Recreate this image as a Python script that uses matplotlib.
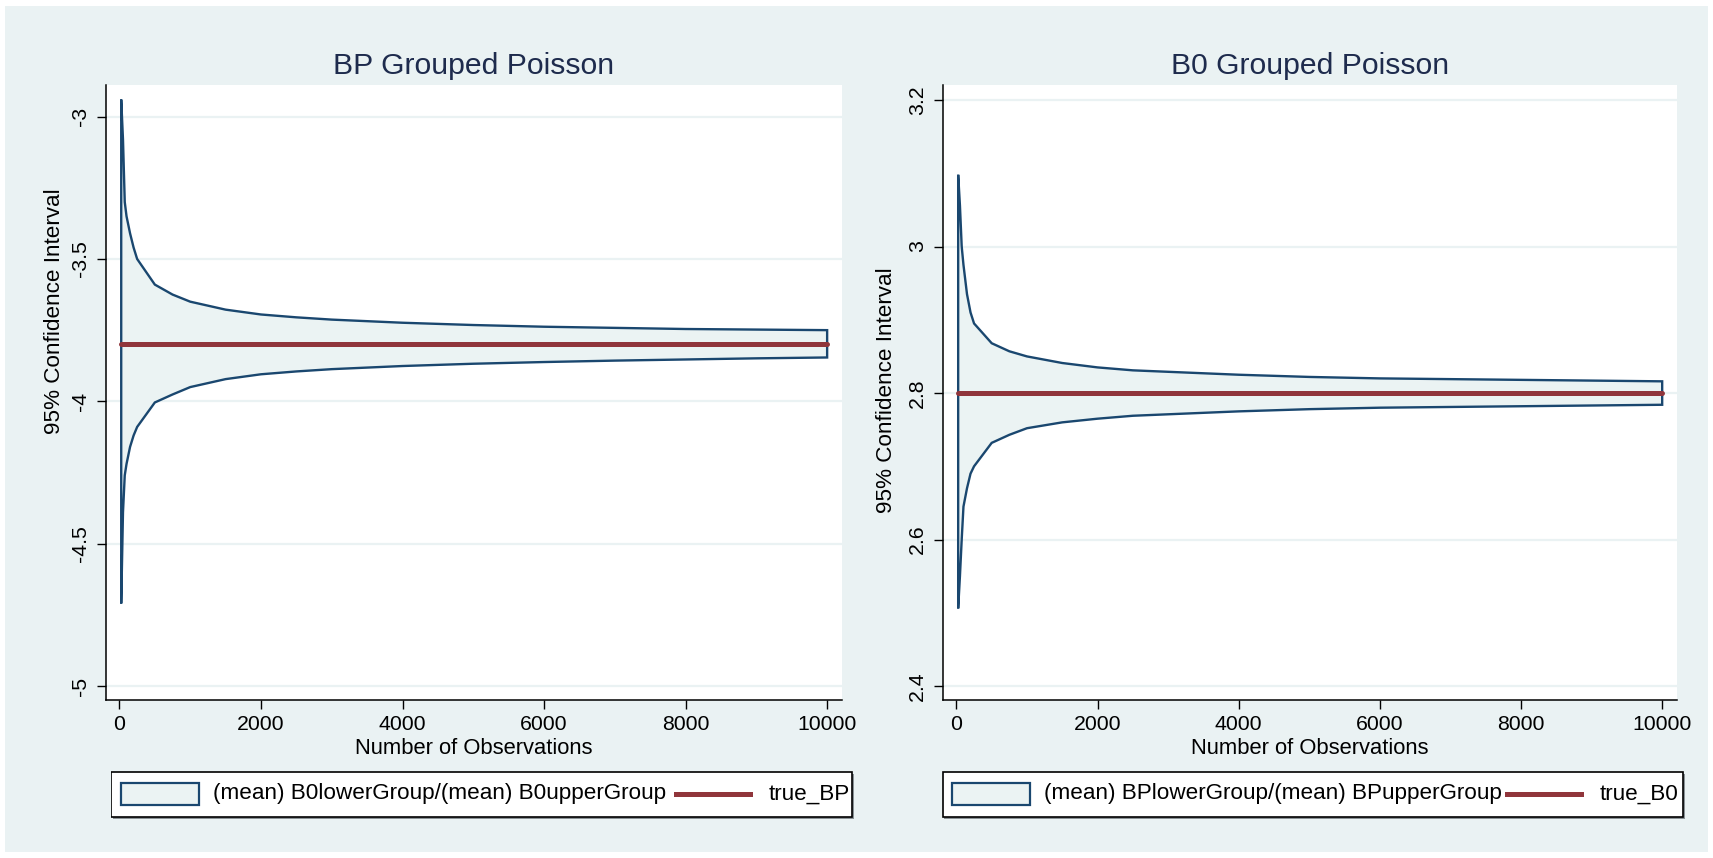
import numpy as np
import matplotlib
matplotlib.use("Agg")
import matplotlib.pyplot as plt
from matplotlib.patches import Rectangle
from matplotlib.lines import Line2D

plt.rcParams['font.family'] = ['Liberation Sans', 'DejaVu Sans']

# Sample sizes used in the simulation
n_obs = [25, 50, 75, 100, 150, 200, 250, 500, 750, 1000, 1500, 2000, 2500,
         3000, 4000, 5000, 6000, 7000, 8000, 9000, 10000]

# BP: mean lower / upper bounds of the 95% CI
bp_upper = [-2.94, -3.08, -3.30, -3.35, -3.41, -3.46, -3.50, -3.59, -3.625, -3.650,
            -3.678, -3.695, -3.705, -3.713, -3.724, -3.732, -3.738, -3.742, -3.746,
            -3.748, -3.750]
bp_lower = [-4.71, -4.39, -4.26, -4.22, -4.16, -4.12, -4.09, -4.004, -3.976, -3.950,
            -3.922, -3.905, -3.895, -3.887, -3.876, -3.868, -3.862, -3.857, -3.853,
            -3.849, -3.846]
true_bp = -3.8

# B0: mean lower / upper bounds of the 95% CI
b0_upper = [3.098, 3.056, 3.000, 2.975, 2.935, 2.910, 2.895, 2.868, 2.857, 2.850,
            2.841, 2.835, 2.831, 2.829, 2.825, 2.822, 2.820, 2.819, 2.818, 2.817, 2.816]
b0_lower = [2.506, 2.550, 2.600, 2.645, 2.670, 2.690, 2.700, 2.732, 2.743, 2.752,
            2.760, 2.765, 2.769, 2.771, 2.775, 2.778, 2.780, 2.781, 2.782, 2.783, 2.784]
true_b0 = 2.8

x_ticks = [0, 2000, 4000, 6000, 8000, 10000]
bp_yticks = [-5, -4.5, -4, -3.5, -3]
bp_ylabels = ['-5', '-4.5', '-4', '-3.5', '-3']
b0_yticks = [2.4, 2.6, 2.8, 3.0, 3.2]
b0_ylabels = ['2.4', '2.6', '2.8', '3', '3.2']

# Stata s2color-ish colours
BG = '#EAF2F3'
NAVY = '#1A476F'
FILL = '#EBF3F3'
MAROON = '#90353B'
TITLE_C = '#1E2B4D'

W, H = 1713, 858


def fx(px):
    return px / W


def fy(py):
    return 1 - py / H


fig = plt.figure(figsize=(W / 100, H / 100), dpi=100, facecolor='white')
fig.patches.append(Rectangle((fx(5), fy(852)), fx(1703), (852 - 6) / H,
                             transform=fig.transFigure, facecolor=BG,
                             edgecolor='none', zorder=-10))


def draw_panel(x0, x1, upper, lower, true_val, yticks, ylabels, ylim,
               title, ytitle_pos, leg_x0, leg_x1, leg_text, leg_true):
    ax = fig.add_axes([fx(x0), fy(700), (x1 - x0) / W, (700 - 85) / H])
    ax.set_facecolor('white')

    # shaded CI band, outline closes at both ends like Stata's rarea
    xs = np.concatenate([n_obs, n_obs[::-1]])
    ys = np.concatenate([upper, lower[::-1]])
    ax.fill(xs, ys, facecolor=FILL, edgecolor=NAVY, linewidth=1.7, zorder=2)
    ax.plot(n_obs, np.full(len(n_obs), true_val), color=MAROON, linewidth=3.6,
            solid_capstyle='round', zorder=3)

    ax.set_xlim(-190, 10210)
    ax.set_ylim(*ylim)
    ax.set_xticks(x_ticks)
    ax.set_xticklabels([str(t) for t in x_ticks])
    ax.set_yticks(yticks)
    ax.set_yticklabels(ylabels, rotation=90, va='center')
    ax.tick_params(axis='both', length=6.5, width=1, labelsize=15.3, color='black')
    ax.tick_params(axis='x', pad=4)
    ax.tick_params(axis='y', pad=5)
    ax.grid(axis='y', color=BG, linewidth=1.6)
    ax.set_axisbelow(True)
    for side in ['top', 'right']:
        ax.spines[side].set_visible(False)
    for side in ['left', 'bottom']:
        ax.spines[side].set_linewidth(1.1)

    cx = (x0 + x1) / 2
    fig.text(fx(cx), fy(66), title, ha='center', va='center', fontsize=21.7,
             color=TITLE_C)
    fig.text(fx(cx), fy(748), 'Number of Observations', ha='center',
             va='center', fontsize=15.8)
    fig.text(fx(ytitle_pos[0]), fy(ytitle_pos[1]), '95% Confidence Interval',
             rotation=90, ha='center', va='center', fontsize=16.2)

    # legend box drawn by hand (Stata lets the key overlap the label)
    lw_px = leg_x1 - leg_x0
    lax = fig.add_axes([fx(leg_x0), fy(819), (lw_px + 2) / W, 48 / H])
    lax.set_xlim(0, lw_px + 2)
    lax.set_ylim(0, 48)
    lax.set_axis_off()
    # faint drop shadow, then the box itself
    lax.add_patch(Rectangle((2, 0), lw_px, 45, facecolor='#8A9296',
                            edgecolor='none'))
    lax.add_patch(Rectangle((0.5, 2.5), lw_px - 1, 45, facecolor='white',
                            edgecolor='black', linewidth=1.2))
    lax.add_patch(Rectangle((0.0135 * lw_px, 14), 0.105 * lw_px, 22,
                            facecolor=FILL, edgecolor=NAVY, linewidth=1.6))
    lax.text(0.138 * lw_px, 25, leg_text, ha='left', va='center', fontsize=16.2)
    lax.add_line(Line2D([0.762 * lw_px, 0.863 * lw_px], [25, 25], color=MAROON,
                        linewidth=3.6, zorder=5))
    lax.text(0.887 * lw_px, 25, leg_true, ha='left', va='center', fontsize=16.2)
    return ax


draw_panel(106, 842, bp_upper, bp_lower, true_bp, bp_yticks, bp_ylabels,
           (-5.049, -2.889), 'BP Grouped Poisson', (55, 311), 111, 852,
           '(mean) B0lowerGroup/(mean) B0upperGroup', 'true_BP')
draw_panel(943, 1677, b0_upper, b0_lower, true_b0, b0_yticks, b0_ylabels,
           (2.381, 3.2205), 'B0 Grouped Poisson', (887, 390), 942, 1683,
           '(mean) BPlowerGroup/(mean) BPupperGroup', 'true_B0')

fig.savefig('out.png', dpi=100, facecolor=fig.get_facecolor())
